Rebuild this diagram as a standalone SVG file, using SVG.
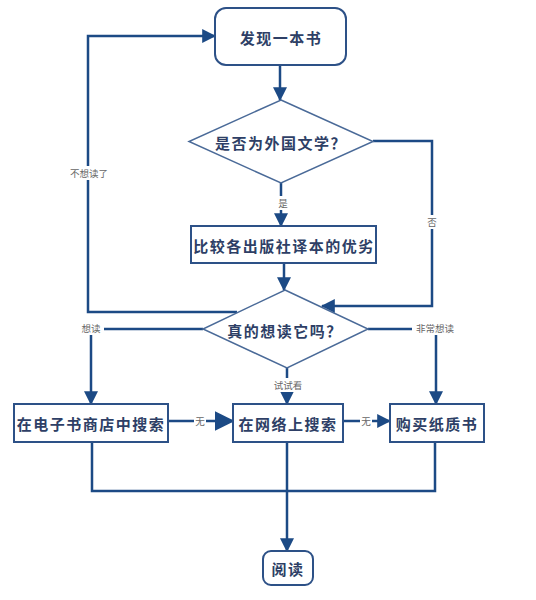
<svg xmlns="http://www.w3.org/2000/svg" width="536" height="600" viewBox="0 0 536 600">
<defs>
<marker id="ah" markerUnits="userSpaceOnUse" markerWidth="14" markerHeight="14" viewBox="0 0 12 12" refX="11" refY="6" orient="auto">
<path d="M0,0 L12,6 L0,12 Z" fill="#1c4a85"/>
</marker>
<marker id="ahb" markerUnits="userSpaceOnUse" markerWidth="20" markerHeight="20" viewBox="0 0 12 12" refX="11" refY="6" orient="auto">
<path d="M0,0 L12,6 L0,12 Z" fill="#1c4a85"/>
</marker>
<style>
.node{fill:#fff;stroke:#2d5187;stroke-width:2}
.dia{fill:#fff;stroke:#4a6a98;stroke-width:1.5}
.t{font-family:"Noto Sans CJK SC","Noto Sans CJK JP",sans-serif;font-weight:700;font-size:15px;fill:#2e3f66;text-anchor:middle;dominant-baseline:central;letter-spacing:1.5px}
.c{fill:none;stroke:#1c4a85;stroke-width:2.5}
.lbg{fill:#fff}
.lb{font-family:"Noto Sans CJK SC","Noto Sans CJK JP",sans-serif;font-size:9.5px;fill:#666;text-anchor:middle;dominant-baseline:central}
</style>
</defs>
<rect width="536" height="600" fill="#fff"/>
<g id="connectors">
<path class="c" d="M280,65 V100" marker-end="url(#ah)"/>
<path class="c" d="M281,183 V226" marker-end="url(#ah)"/>
<path class="c" d="M373,141 H432 V306 H322" marker-end="url(#ah)"/>
<path class="c" d="M284,263 V290" marker-end="url(#ah)"/>
<path class="c" d="M237,312 H88 V36 H215" marker-end="url(#ah)"/>
<path class="c" d="M203,329 H91 V404" marker-end="url(#ah)"/>
<path class="c" d="M368,329 H436 V404" marker-end="url(#ah)"/>
<path class="c" d="M287,368 V404" marker-end="url(#ah)"/>
<path class="c" d="M168,421 H233" stroke-width="3" marker-end="url(#ahb)"/>
<path class="c" d="M343,421 H390" marker-end="url(#ah)"/>
<path class="c" d="M92,442 V491 H435 V442"/>
<path class="c" d="M287,442 V551" marker-end="url(#ah)"/>
<rect class="lbg" x="276" y="196" width="14" height="14"/>
<text class="lb" x="283" y="203">是</text>
<rect class="lbg" x="426" y="215" width="12" height="14"/>
<text class="lb" x="432" y="222">否</text>
<rect class="lbg" x="67" y="166" width="44" height="14"/>
<text class="lb" x="89" y="173">不想读了</text>
<rect class="lbg" x="78" y="321" width="26" height="14"/>
<text class="lb" x="91" y="328">想读</text>
<rect class="lbg" x="412" y="321" width="46" height="14"/>
<text class="lb" x="435" y="328">非常想读</text>
<rect class="lbg" x="270" y="378" width="36" height="14"/>
<text class="lb" x="288" y="385">试试看</text>
<rect class="lbg" x="194" y="414" width="12" height="14"/>
<text class="lb" x="200" y="421">无</text>
<rect class="lbg" x="360" y="414" width="12" height="14"/>
<text class="lb" x="366" y="421">无</text>
</g>
<g id="n1"><rect class="node" x="215" y="8" width="131" height="57" rx="11"/><text class="t" x="281" y="37">发现一本书</text></g>
<g id="n2"><polygon class="dia" points="281,100 373,141.5 281,183 189,141.5"/><text class="t" x="281" y="142">是否为外国文学？</text></g>
<g id="n3"><rect class="node" x="191" y="226" width="185" height="37"/><text class="t" x="284" y="245">比较各出版社译本的优劣</text></g>
<g id="n4"><polygon class="dia" points="285,290 368,329 287,368 203,329"/><text class="t" x="285" y="330">真的想读它吗？</text></g>
<g id="n5"><rect class="node" x="14" y="404" width="154" height="38"/><text class="t" x="91" y="423">在电子书商店中搜索</text></g>
<g id="n6"><rect class="node" x="233" y="404" width="110" height="38"/><text class="t" x="288" y="423">在网络上搜索</text></g>
<g id="n7"><rect class="node" x="390" y="404" width="94" height="38"/><text class="t" x="437" y="423">购买纸质书</text></g>
<g id="n8"><rect class="node" x="263" y="551" width="50" height="34" rx="8"/><text class="t" x="288" y="568">阅读</text></g>
</svg>
